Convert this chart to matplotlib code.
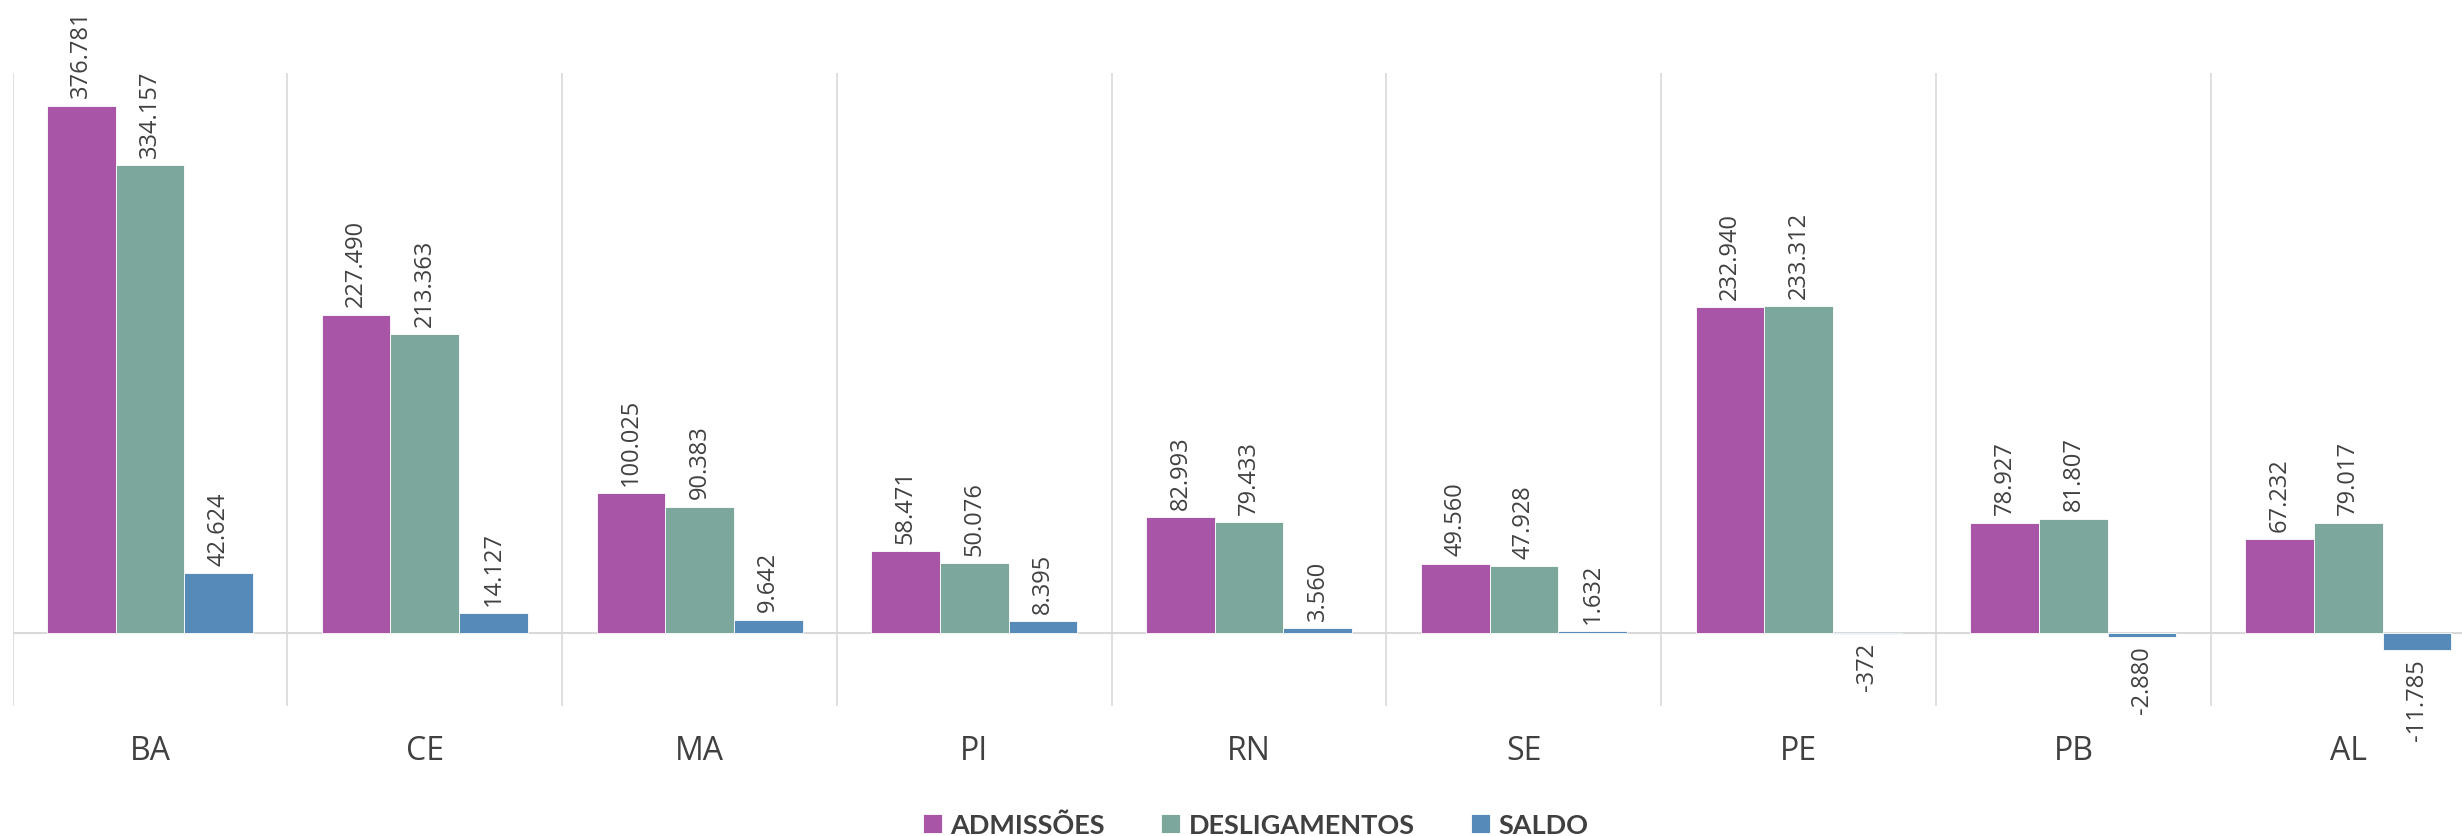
import matplotlib.pyplot as plt
import numpy as np

# dados por estado
estados = ['BA', 'CE', 'MA', 'PI', 'RN', 'SE', 'PE', 'PB', 'AL']
admissoes = [376781, 227490, 100025, 58471, 82993, 49560, 232940, 78927, 67232]
desligamentos = [334157, 213363, 90383, 50076, 79433, 47928, 233312, 81807, 79017]
saldo = [42624, 14127, 9642, 8395, 3560, 1632, -372, -2880, -11785]

series = ['ADMISSÕES', 'DESLIGAMENTOS', 'SALDO']
cores = ['#A855A8', '#7BA79D', '#558AB9']

def fmt(v):
    s = f'{abs(v):,}'.replace(',', '.')
    return ('-' if v < 0 else '') + s

fig = plt.figure(figsize=(24.62, 8.37), dpi=100)
ax = fig.add_axes([12.6 / 2462, 130 / 837, 2473 / 2462, 633 / 837])

x = np.arange(len(estados))
w = 0.25
texto = '#404040'

for k, (nome, vals, cor) in enumerate(zip(series, [admissoes, desligamentos, saldo], cores)):
    pos = x + (k - 1) * w
    ax.bar(pos, vals, w, color=cor, edgecolor='white', linewidth=0.6, label=nome, zorder=3)
    for px, v in zip(pos, vals):
        ax.annotate(fmt(v), (px, v), xytext=(0, 6 if v >= 0 else -6), textcoords='offset points',
                    rotation=90, ha='center', va='bottom' if v >= 0 else 'top',
                    fontsize=17, color=texto, family='Open Sans')

ax.set_xlim(-0.5, len(estados) - 0.5)
ax.set_ylim(-52000, 400000)

# linhas verticais entre categorias
for b in np.arange(-0.5, len(estados)):
    ax.axvline(b, color='#d9d9d9', linewidth=1.2, zorder=1)
ax.axhline(0, color='#d9d9d9', linewidth=1.5, zorder=2)

for s in ax.spines.values():
    s.set_visible(False)
ax.set_yticks([])
ax.set_xticks(x)
ax.set_xticklabels(estados, fontsize=23, color=texto, family='Open Sans')
ax.tick_params(axis='x', length=0, pad=20)

leg = fig.legend(loc='center', bbox_to_anchor=(0.51, 0.013), ncol=3, frameon=False,
                 handlelength=0.7, handleheight=0.7, handletextpad=0.3, columnspacing=2.1,
                 prop={'family': 'Lato', 'weight': 'bold', 'size': 19.5})
for t in leg.get_texts():
    t.set_color(texto)

fig.savefig('out.png', dpi=100)
